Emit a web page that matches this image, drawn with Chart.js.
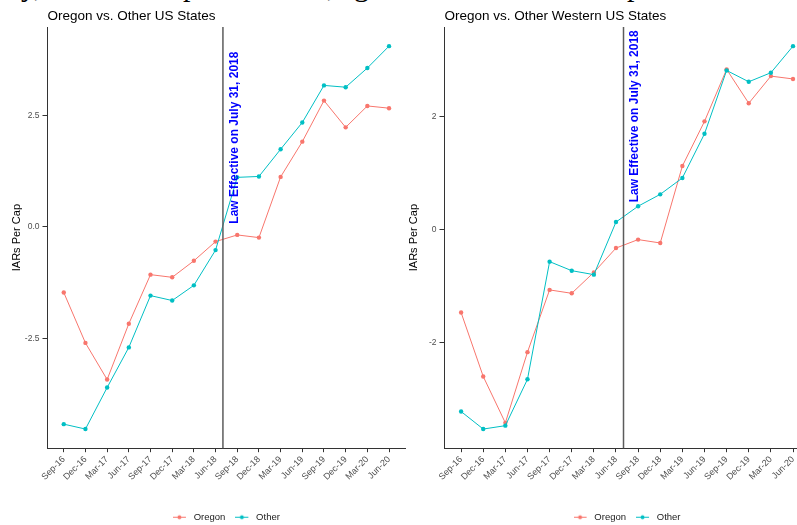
<!DOCTYPE html>
<html>
<head>
<meta charset="utf-8">
<title>IARs Per Cap: Oregon vs. Other States</title>
<script src="https://cdn.jsdelivr.net/npm/chart.js@4/dist/chart.umd.min.js"></script>
<style>
  html, body { margin: 0; padding: 0; background: #fff; }
  body { position: relative; width: 797px; height: 525px; overflow: hidden; }
  canvas { position: absolute; top: 0; }
  #left { left: 0; }
  #right { left: 397px; }
  /* bottom edge of the page text above the figure */
  #caption { position: absolute; left: 0; top: -29px; width: 797px; height: 30px;
             font: 30px/30px "Liberation Serif", "Times New Roman", serif; color: #000; }
  #caption span { position: absolute; top: 0; white-space: pre; }
</style>
</head>
<body>
<div id="caption"><span style="left:21px">y,</span><span style="left:183px">p</span><span style="left:327px">,</span><span style="left:354px">g</span><span style="left:627px">p</span></div>
<canvas id="left" width="410" height="525"></canvas>
<canvas id="right" width="420" height="525"></canvas>
<script>
var categories = ['Sep-16', 'Dec-16', 'Mar-17', 'Jun-17', 'Sep-17', 'Dec-17', 'Mar-18', 'Jun-18',
                  'Sep-18', 'Dec-18', 'Mar-19', 'Jun-19', 'Sep-19', 'Dec-19', 'Mar-20', 'Jun-20'];

var oregon = [-1.47, -2.60, -3.42, -2.17, -1.07, -1.13, -0.76, -0.33,
              -0.18, -0.24, 1.12, 1.91, 2.83, 2.23, 2.71, 2.66];
var otherUS = [-4.42, -4.53, -3.60, -2.70, -1.54, -1.65, -1.31, -0.52,
               1.11, 1.13, 1.74, 2.34, 3.17, 3.13, 3.56, 4.05];
var otherWestern = [-3.22, -3.53, -3.47, -2.65, -0.57, -0.73, -0.80, 0.13,
                    0.41, 0.62, 0.91, 1.69, 2.81, 2.61, 2.77, 3.24];

var usTicks = [-2.5, 0, 2.5];
var westernTicks = [-2, 0, 2];

// July 31, 2018 sits about a third of the way from Jun-18 to Sep-18
var lawIndex = 7.34;
var lawText = 'Law Effective on July 31, 2018';
var lawTextY = 2;

var RED = '#F8766D';
var TEAL = '#00BFC4';
var FONT = '"Liberation Sans", Arial, sans-serif';

Chart.defaults.font.family = FONT;

// ggplot style legend key: short line with a dot in the middle
function legendKey(color) {
    var c = document.createElement('canvas');
    c.width = 16;
    c.height = 7;
    var g = c.getContext('2d');
    g.strokeStyle = color;
    g.lineWidth = 1;
    g.beginPath();
    g.moveTo(0, 3.5);
    g.lineTo(13, 3.5);
    g.stroke();
    g.fillStyle = color;
    g.beginPath();
    g.arc(6.5, 3.5, 2, 0, Math.PI * 2);
    g.fill();
    return c;
}
var keys = [legendKey(RED), legendKey(TEAL)];

function toPoints(values) {
    return values.map(function (v, i) { return { x: i, y: v }; });
}

var panelDecor = {
    id: 'panelDecor',
    afterDatasetsDraw: function (chart) {
        var ctx = chart.ctx;
        var area = chart.chartArea;
        var x = chart.scales.x.getPixelForValue(lawIndex);
        ctx.save();
        ctx.strokeStyle = '#5c5c5c';
        ctx.lineWidth = 1.5;
        ctx.beginPath();
        ctx.moveTo(x, area.top);
        ctx.lineTo(x, area.bottom);
        ctx.stroke();

        ctx.translate(x + 11.5, chart.scales.y.getPixelForValue(lawTextY));
        ctx.rotate(-Math.PI / 2);
        ctx.font = 'bold 12px ' + FONT;
        ctx.fillStyle = '#0000FF';
        ctx.textAlign = 'center';
        ctx.textBaseline = 'middle';
        ctx.fillText(lawText, 0, 0);
        ctx.restore();
    },
    afterDraw: function (chart, args, opts) {
        var ctx = chart.ctx;
        ctx.save();
        ctx.font = '13.5px ' + FONT;
        ctx.fillStyle = '#000';
        ctx.textAlign = 'left';
        ctx.textBaseline = 'alphabetic';
        ctx.fillText(opts.title, chart.chartArea.left, 19.5);
        ctx.restore();
    }
};

function makeChart(id, title, other, ticks, decimals, padRight) {
    var all = oregon.concat(other);
    var lo = Math.min.apply(null, all);
    var hi = Math.max.apply(null, all);
    var pad = (hi - lo) * 0.05;
    var last = categories.length - 1;

    return new Chart(document.getElementById(id), {
        type: 'line',
        data: {
            datasets: [{
                label: 'Oregon',
                data: toPoints(oregon),
                borderColor: RED,
                backgroundColor: RED,
                borderWidth: 1,
                pointRadius: 2.2,
                pointBorderWidth: 0,
                order: 1
            }, {
                label: 'Other',
                data: toPoints(other),
                borderColor: TEAL,
                backgroundColor: TEAL,
                borderWidth: 1,
                pointRadius: 2.2,
                pointBorderWidth: 0,
                order: 0
            }]
        },
        options: {
            responsive: false,
            animation: false,
            layout: { padding: { top: 27, left: 0, right: padRight, bottom: -7 } },
            scales: {
                x: {
                    type: 'linear',
                    min: -0.05 * last,
                    max: last * 1.05,
                    afterBuildTicks: function (s) {
                        s.ticks = categories.map(function (c, i) { return { value: i }; });
                    },
                    afterFit: function (s) { s.height = 54.3; },
                    ticks: {
                        autoSkip: false,
                        minRotation: 45,
                        maxRotation: 45,
                        padding: 2,
                        color: '#4d4d4d',
                        font: { size: 9 },
                        callback: function (v) { return categories[v]; }
                    },
                    grid: { drawOnChartArea: false, drawTicks: true, tickLength: 4, color: '#333' },
                    border: { display: true, color: '#333', width: 1 }
                },
                y: {
                    min: lo - pad,
                    max: hi + pad,
                    afterBuildTicks: function (s) {
                        s.ticks = ticks.map(function (v) { return { value: v }; });
                    },
                    afterFit: function (s) { s.width = 47.5; },
                    ticks: {
                        padding: 3,
                        color: '#4d4d4d',
                        font: { size: 8.5 },
                        callback: function (v) { return v.toFixed(decimals); }
                    },
                    grid: { drawOnChartArea: false, drawTicks: true, tickLength: 5, color: '#333' },
                    border: { display: true, color: '#333', width: 1 },
                    title: {
                        display: true,
                        text: 'IARs Per Cap',
                        color: '#000',
                        font: { size: 11 },
                        padding: { top: 10, bottom: 0 }
                    }
                }
            },
            plugins: {
                tooltip: { enabled: false },
                panelDecor: { title: title },
                legend: {
                    position: 'bottom',
                    fullSize: false,
                    labels: {
                        usePointStyle: true,
                        pointStyleWidth: 16,
                        padding: 10,
                        color: '#1a1a1a',
                        font: { size: 9.5 },
                        generateLabels: function (chart) {
                            var items = Chart.defaults.plugins.legend.labels.generateLabels(chart);
                            items.forEach(function (it) { it.pointStyle = keys[it.datasetIndex]; });
                            return items;
                        },
                        sort: function (a, b) { return a.datasetIndex - b.datasetIndex; }
                    }
                }
            }
        },
        plugins: [panelDecor]
    });
}

makeChart('left', 'Oregon vs. Other US States', otherUS, usTicks, 1, 4.7);
makeChart('right', 'Oregon vs. Other Western US States', otherWestern, westernTicks, 0, 7.4);
</script>
</body>
</html>
